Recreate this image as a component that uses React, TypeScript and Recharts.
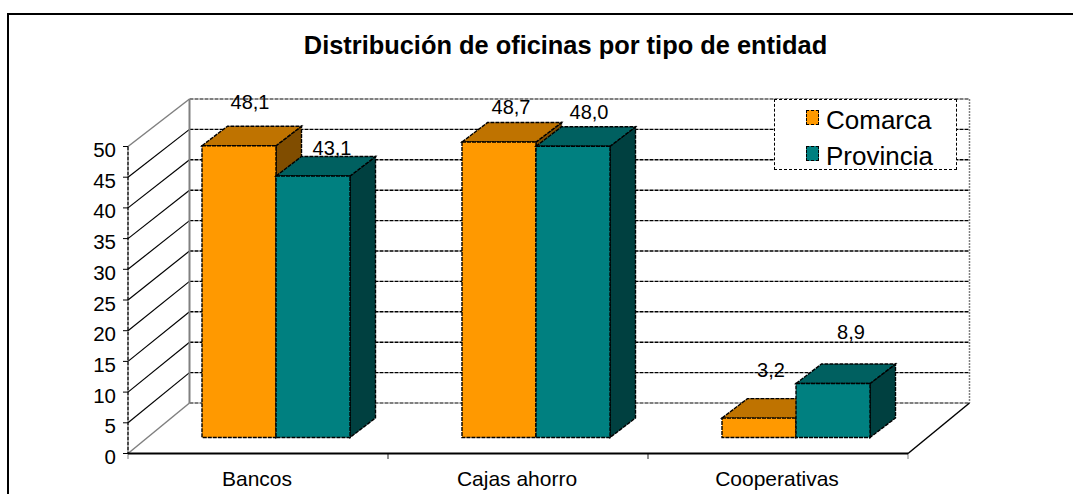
import React from 'react';
import { BarChart, Bar, XAxis, YAxis, CartesianGrid, LabelList, Legend } from 'recharts';

const categories = ['Bancos', 'Cajas ahorro', 'Cooperativas'];
const comarca = [48.1, 48.7, 3.2];
const provincia = [43.1, 48.0, 8.9];
const yTicks = [0, 5, 10, 15, 20, 25, 30, 35, 40, 45, 50];
const title = 'Distribución de oficinas por tipo de entidad';

const rows = categories.map((name, i) => ({ name, Comarca: comarca[i], Provincia: provincia[i] }));

const FONT = '"Liberation Sans", Arial, sans-serif';
const DASH = '4 1';

// Projection of the 3D frame
const WALL_DX = 61.5;
const WALL_DY = -50.5;
const WALL_K = 304 / 307;
const PLANE_DX = 18;
const PLANE_DY = -16;
const PLANE_K = 0.988;
const DEPTH_X = 25.5;
const DEPTH_Y = -19.5;

const AXIS_W = 128;
const AXIS_H = 40.5;
const M = { left: 0, right: 165, top: 146.5, bottom: 0 };
const W = 1073;
const H = 494;
const FRONT_RIGHT = W - M.right;
const FRONT_BOTTOM = H - AXIS_H;
const WALL_BOTTOM = FRONT_BOTTOM + WALL_DY;

const shade = (hex: string, k: number) => {
  const n = parseInt(hex.slice(1), 16);
  const c = [(n >> 16) & 255, (n >> 8) & 255, n & 255].map((v) => Math.round(v * k));
  return `rgb(${c[0]},${c[1]},${c[2]})`;
};

const Box3D = (props: any) => {
  const { x, y, width, height, fill } = props;
  const bottom = y + height + PLANE_DY;
  const h = height * PLANE_K;
  const top = bottom - h;
  const l = x + PLANE_DX;
  const r = l + width;
  const common = { stroke: '#000', strokeWidth: 1.4, strokeDasharray: DASH };
  return (
    <g>
      <polygon points={`${r},${top} ${r + DEPTH_X},${top + DEPTH_Y} ${r + DEPTH_X},${bottom + DEPTH_Y} ${r},${bottom}`} fill={shade(fill, 0.5)} {...common} />
      <polygon points={`${l},${top} ${l + DEPTH_X},${top + DEPTH_Y} ${r + DEPTH_X},${top + DEPTH_Y} ${r},${top}`} fill={shade(fill, 0.75)} {...common} />
      <rect x={l} y={top} width={width} height={h} fill={fill} {...common} />
    </g>
  );
};

const nudges: Record<string, [number, number][]> = {
  Comarca: [[11, -37], [12, -28], [12, -41]],
  Provincia: [[19, -21], [16, -27], [18, -45]],
};

const makeLabel = (key: string) => (props: any) => {
  const { x, y, width, height, value, index } = props;
  const bottom = y + height + PLANE_DY;
  const top = bottom - height * PLANE_K;
  const [dx, dy] = nudges[key][index];
  return (
    <text x={x + PLANE_DX + width / 2 + dx} y={top + dy} textAnchor="middle" fontFamily={FONT} fontSize={20} fill="#000">
      {Number(value).toFixed(1).replace('.', ',')}
    </text>
  );
};

const GridLine = (props: any) => {
  const { y1, x1, x2, index } = props;
  const wy = WALL_BOTTOM - (FRONT_BOTTOM - y1) * WALL_K;
  const wx1 = x1 + WALL_DX;
  const wx2 = x2 + WALL_DX;
  const isFloor = y1 >= FRONT_BOTTOM - 1;
  const isTop = y1 <= M.top + 1;
  const isEdge = isFloor || isTop;
  return (
    <g key={`g-${index}`}>
      <line x1={wx1} y1={wy} x2={wx2} y2={wy} stroke={isEdge ? '#808080' : '#000'} strokeWidth={isEdge ? 2 : 1.4} strokeDasharray={DASH} />
      <line x1={x1} y1={y1} x2={wx1} y2={wy} stroke={isEdge ? '#808080' : '#000'} strokeWidth={isEdge ? 1.5 : 1.2} />
      {isFloor && <line x1={x2} y1={y1} x2={wx2} y2={wy} stroke="#000" strokeWidth={1.5} />}
      {isTop && <line x1={wx1} y1={wy} x2={wx1} y2={WALL_BOTTOM} stroke="#808080" strokeWidth={2} />}
      {isTop && <line x1={wx2} y1={wy} x2={wx2} y2={WALL_BOTTOM} stroke="#808080" strokeWidth={1.5} strokeDasharray="2 1" />}
    </g>
  );
};

const CategoryTick = (props: any) => {
  const { x, payload, visibleTicksCount } = props;
  const band = (FRONT_RIGHT - AXIS_W) / (visibleTicksCount || categories.length);
  const y = FRONT_BOTTOM;
  return (
    <g>
      <line x1={x - band / 2} y1={y} x2={x - band / 2} y2={y + 5} stroke="#000" strokeDasharray="1 1" />
      <line x1={x + band / 2} y1={y} x2={x + band / 2} y2={y + 5} stroke="#000" strokeDasharray="1 1" />
      <text x={x - 1} y={y + 32} textAnchor="middle" fontFamily={FONT} fontSize={21} fill="#000">{payload.value}</text>
    </g>
  );
};

const ValueTick = (props: any) => {
  const { x, y, payload } = props;
  return (
    <text x={x - 3} y={y + 10.5} textAnchor="end" fontFamily={FONT} fontSize={20.5} fill="#000">{payload.value}</text>
  );
};

const LegendBox = (props: any) => (
  <div style={{ width: 183, height: 71, boxSizing: 'border-box', border: '1.5px dashed #000', background: '#fff', position: 'relative', fontFamily: FONT, fontSize: 26, lineHeight: '36px' }}>
    {(props.payload || []).map((p: any, i: number) => (
      <div key={p.value} style={{ position: 'absolute', left: 51, top: 2 + i * 36, whiteSpace: 'nowrap', color: '#000' }}>
        <span style={{ position: 'absolute', left: -20, top: 8, width: 11, height: 13, boxSizing: 'content-box', background: p.color, border: '1px dashed #000' }} />
        {p.value}
      </div>
    ))}
  </div>
);

export default function App() {
  return (
    <div style={{ position: 'fixed', left: 0, top: 0, width: W, height: H, overflow: 'hidden', background: '#fff' }}>
      <div style={{ position: 'absolute', left: 7, top: 13, width: 1300, height: 800, borderTop: '2px solid #000', borderLeft: '2px solid #000' }} />
      <div style={{ position: 'absolute', left: 0, top: 29, width: 1131, textAlign: 'center', fontFamily: FONT, fontWeight: 700, fontSize: 25.4, color: '#000', lineHeight: '32px' }}>{title}</div>
      <div style={{ position: 'absolute', left: 0, top: 0 }}>
        <BarChart width={W} height={H} data={rows} margin={M} barCategoryGap={56} barGap={0}>
          <CartesianGrid horizontal={GridLine as any} vertical={false} />
          <XAxis
            dataKey="name"
            axisLine={{ stroke: '#000', strokeWidth: 2 }}
            tickLine={false}
            tick={<CategoryTick />}
            interval={0}
            height={AXIS_H}
          />
          <YAxis
            domain={[0, 50]}
            ticks={yTicks}
            interval={0}
            width={AXIS_W}
            axisLine={{ stroke: '#000', strokeWidth: 1.4, strokeDasharray: DASH }}
            tickLine={{ stroke: '#000' }}
            tickSize={5}
            tickMargin={4}
            tick={<ValueTick />}
          />
          <Bar dataKey="Comarca" fill="#FF9900" shape={<Box3D />} isAnimationActive={false}>
            <LabelList dataKey="Comarca" content={makeLabel('Comarca')} />
          </Bar>
          <Bar dataKey="Provincia" fill="#008080" shape={<Box3D />} isAnimationActive={false}>
            <LabelList dataKey="Provincia" content={makeLabel('Provincia')} />
          </Bar>
          <Legend
            layout="vertical"
            align="center"
            verticalAlign="middle"
            content={<LegendBox />}
            wrapperStyle={{ position: 'absolute', left: 774, top: 99, width: 183, height: 71, margin: 0, transform: 'none' }}
          />
        </BarChart>
      </div>
    </div>
  );
}
